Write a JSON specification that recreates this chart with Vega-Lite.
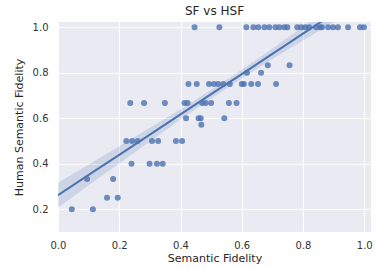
{
  "$schema": "https://vega.github.io/schema/vega-lite/v6.json",
  "width": 313,
  "height": 210,
  "autosize": "none",
  "padding": {"left": 58, "top": 22, "right": 4, "bottom": 37},
  "background": "white",
  "title": {"text": "SF vs HSF", "fontSize": 12, "font": "DejaVu Sans", "fontWeight": "normal", "color": "#262626", "offset": 4},
  "config": {
    "view": {"fill": "#eaeaf2", "stroke": null},
    "axis": {"domain": false, "ticks": false, "gridColor": "white", "gridWidth": 1, "labelFlush": false, "labelFont": "DejaVu Sans", "labelFontSize": 10, "labelColor": "#333333", "titleFont": "DejaVu Sans", "titleFontSize": 11, "titleFontWeight": "normal", "titleColor": "#262626"}
  },
  "datasets": {
    "pts": [
      {"sf": 0.045, "hsf": 0.2}, {"sf": 0.114, "hsf": 0.2},
      {"sf": 0.160, "hsf": 0.25}, {"sf": 0.195, "hsf": 0.25},
      {"sf": 0.095, "hsf": 0.3333}, {"sf": 0.180, "hsf": 0.3333},
      {"sf": 0.240, "hsf": 0.4}, {"sf": 0.299, "hsf": 0.4}, {"sf": 0.323, "hsf": 0.4}, {"sf": 0.342, "hsf": 0.4},
      {"sf": 0.223, "hsf": 0.5}, {"sf": 0.242, "hsf": 0.5}, {"sf": 0.260, "hsf": 0.5}, {"sf": 0.307, "hsf": 0.5}, {"sf": 0.327, "hsf": 0.5}, {"sf": 0.385, "hsf": 0.5}, {"sf": 0.405, "hsf": 0.5},
      {"sf": 0.468, "hsf": 0.5714},
      {"sf": 0.418, "hsf": 0.6}, {"sf": 0.459, "hsf": 0.6}, {"sf": 0.466, "hsf": 0.6}, {"sf": 0.543, "hsf": 0.6},
      {"sf": 0.236, "hsf": 0.6667}, {"sf": 0.281, "hsf": 0.6667}, {"sf": 0.349, "hsf": 0.6667}, {"sf": 0.413, "hsf": 0.6667}, {"sf": 0.423, "hsf": 0.6667}, {"sf": 0.471, "hsf": 0.6667}, {"sf": 0.482, "hsf": 0.6667}, {"sf": 0.500, "hsf": 0.6667}, {"sf": 0.558, "hsf": 0.6667}, {"sf": 0.583, "hsf": 0.6667},
      {"sf": 0.426, "hsf": 0.75}, {"sf": 0.453, "hsf": 0.75}, {"sf": 0.493, "hsf": 0.75}, {"sf": 0.509, "hsf": 0.75}, {"sf": 0.523, "hsf": 0.75}, {"sf": 0.540, "hsf": 0.75}, {"sf": 0.561, "hsf": 0.75}, {"sf": 0.600, "hsf": 0.75}, {"sf": 0.607, "hsf": 0.75}, {"sf": 0.631, "hsf": 0.75}, {"sf": 0.653, "hsf": 0.75}, {"sf": 0.712, "hsf": 0.75},
      {"sf": 0.617, "hsf": 0.8}, {"sf": 0.663, "hsf": 0.8},
      {"sf": 0.685, "hsf": 0.8333}, {"sf": 0.756, "hsf": 0.8333},
      {"sf": 0.446, "hsf": 1.0}, {"sf": 0.527, "hsf": 1.0}, {"sf": 0.615, "hsf": 1.0}, {"sf": 0.638, "hsf": 1.0}, {"sf": 0.654, "hsf": 1.0}, {"sf": 0.674, "hsf": 1.0}, {"sf": 0.690, "hsf": 1.0}, {"sf": 0.710, "hsf": 1.0}, {"sf": 0.723, "hsf": 1.0}, {"sf": 0.739, "hsf": 1.0}, {"sf": 0.749, "hsf": 1.0}, {"sf": 0.781, "hsf": 1.0}, {"sf": 0.794, "hsf": 1.0}, {"sf": 0.807, "hsf": 1.0}, {"sf": 0.820, "hsf": 1.0}, {"sf": 0.843, "hsf": 1.0}, {"sf": 0.856, "hsf": 1.0}, {"sf": 0.862, "hsf": 1.0}, {"sf": 0.882, "hsf": 1.0}, {"sf": 0.898, "hsf": 1.0}, {"sf": 0.914, "hsf": 1.0}, {"sf": 0.947, "hsf": 1.0}, {"sf": 0.986, "hsf": 1.0}, {"sf": 0.999, "hsf": 1.0}
    ],
    "fit": [
      {"sf": 0.0, "fit": 0.262, "lo": 0.207, "hi": 0.317},
      {"sf": 0.1, "fit": 0.351, "lo": 0.305, "hi": 0.397},
      {"sf": 0.2, "fit": 0.439, "lo": 0.401, "hi": 0.477},
      {"sf": 0.3, "fit": 0.528, "lo": 0.498, "hi": 0.558},
      {"sf": 0.4, "fit": 0.617, "lo": 0.594, "hi": 0.640},
      {"sf": 0.5, "fit": 0.706, "lo": 0.687, "hi": 0.725},
      {"sf": 0.6, "fit": 0.794, "lo": 0.775, "hi": 0.813},
      {"sf": 0.7, "fit": 0.883, "lo": 0.860, "hi": 0.906},
      {"sf": 0.8, "fit": 0.972, "lo": 0.942, "hi": 1.002},
      {"sf": 0.9, "fit": 1.060, "lo": 1.022, "hi": 1.098},
      {"sf": 1.0, "fit": 1.149, "lo": 1.103, "hi": 1.195},
      {"sf": 1.03, "fit": 1.176, "lo": 1.127, "hi": 1.225}
    ]
  },
  "encoding": {
    "x": {"field": "sf", "type": "quantitative", "title": "Semantic Fidelity",
      "scale": {"domain": [0, 1.022], "nice": false, "zero": false},
      "axis": {"values": [0, 0.2, 0.4, 0.6, 0.8, 1.0], "format": ".1f", "labelPadding": 8, "titlePadding": 2}}
  },
  "layer": [
    {
      "data": {"name": "pts"},
      "mark": {"type": "circle", "size": 36, "color": "#4c72b0", "opacity": 0.8},
      "encoding": {
        "y": {"field": "hsf", "type": "quantitative", "title": "Human Semantic Fidelity",
          "scale": {"domain": [0.1, 1.023], "nice": false, "zero": false},
          "axis": {"values": [0.2, 0.4, 0.6, 0.8, 1.0], "format": ".1f", "labelPadding": 10, "titlePadding": 8}}
      }
    },
    {
      "data": {"name": "fit"},
      "mark": {"type": "area", "color": "#4c72b0", "opacity": 0.18, "clip": true},
      "encoding": {
        "y": {"field": "lo", "type": "quantitative"},
        "y2": {"field": "hi"}
      }
    },
    {
      "data": {"name": "fit"},
      "mark": {"type": "line", "color": "#4c72b0", "strokeWidth": 2, "clip": true},
      "encoding": {
        "y": {"field": "fit", "type": "quantitative"}
      }
    }
  ]
}
